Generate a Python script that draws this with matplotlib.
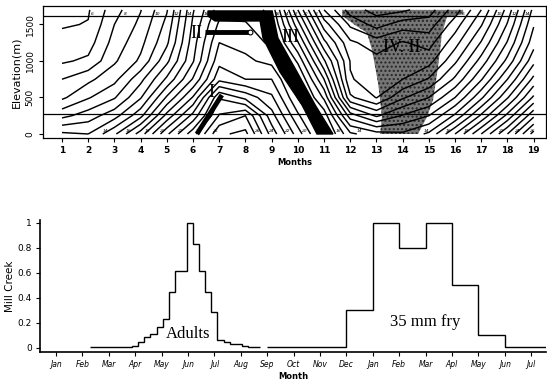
import numpy as np
import matplotlib
matplotlib.use("Agg")
import matplotlib.pyplot as plt

# ---------------- data: top panel (contoured field, months x elevation) -------------
months = np.arange(1, 20)
elev = np.array([0, 250, 500, 750, 1000, 1250, 1500, 1700])

temp_0m    = [13.2, 13.0, 14.8, 17.5, 20.8, 23.6, 26.8, 27.3, 23.6, 20.5, 17.4, 14.2, 13.4, 13.2, 14.2, 17.0, 20.0, 23.0, 26.4]
temp_250m  = [10.7, 11.5, 12.6, 14.7, 18.35, 21.35, 25.1, 26.0, 22.4, 19.2, 16.6, 11.5, 9.85, 11.1, 12.0, 14.2, 17.2, 20.3, 23.8]
temp_500m  = [8.8, 9.9, 10.9, 12.9, 16.15, 19.1, 23.9, 22.7, 21.2, 17.95, 14.8, 8.2, 6.95, 8.85, 10.0, 12.0, 14.8, 17.9, 21.2]
temp_750m  = [8.0, 8.75, 9.7, 11.7, 14.2, 17.1, 20.7, 20.0, 20.0, 17.2, 13.0, 7.05, 6.7, 7.0, 8.1, 10.2, 12.9, 16.0, 19.3]
temp_1000m = [6.85, 7.2, 8.85, 10.2, 12.75, 15.9, 19.7, 19.2, 18.7, 15.8, 11.15, 6.95, 6.3, 6.55, 6.6, 8.8, 11.4, 14.3, 17.7]
temp_1250m = [6.35, 6.55, 8.4, 9.7, 11.8, 15.55, 19.0, 18.7, 17.75, 14.1, 9.3, 6.2, 5.5, 6.1, 5.6, 7.6, 10.1, 13.1, 16.6]
temp_1500m = [5.9, 6.05, 8.0, 9.25, 11.3, 15.2, 18.2, 18.1, 17.2, 12.4, 7.5, 4.8, 3.6, 4.5, 4.5, 6.5, 8.9, 12.1, 15.9]
temp_1700m = [5.6, 5.9, 7.6, 8.95, 10.9, 14.9, 17.5, 17.6, 16.7, 11.0, 6.0, 3.5, 2.6, 2.8, 3.5, 5.5, 8.0, 11.4, 15.3]
contour_levels = np.arange(1, 31)

ref_lines_elev = [1616, 274]

# life-stage regions (month, elevation)
stage_I_month = [6.15, 7.1]
stage_I_elev = [0, 534]
stage_II_month = [6.46, 8.18]
stage_II_elev = [1397, 1397]
stage_III_month = [6.57, 9.02, 9.24, 9.97, 10.66, 11.34, 10.73, 10.16, 9.32, 8.67, 8.56, 6.84, 6.57]
stage_III_elev = [1685, 1685, 1315, 849, 397, 0, 0, 397, 849, 1315, 1548, 1548, 1616]
stage_IV_month = [11.69, 16.31, 16.31, 15.69, 15.50, 15.43, 15.35, 15.16, 14.93, 14.59,
                  13.14, 13.21, 13.14, 13.06, 12.95, 12.83, 12.64, 12.18, 11.69]
stage_IV_elev = [1700, 1700, 1640, 1600, 1384, 1151, 918, 466, 233, 0,
                 0, 233, 466, 699, 918, 1151, 1384, 1493, 1620]

# ---------------- data: bottom panel ----------------
month_labels = ["Jan", "Feb", "Mar", "Apr", "May", "Jun", "Jul", "Aug", "Sep", "Oct",
                "Nov", "Dec", "Jan", "Feb", "Mar", "Apl", "May", "Jun", "Jul"]
adult_weeks = np.arange(5, 33)          # week of year (first year)
adult_values = [0.005, 0.005, 0.005, 0.005, 0.005, 0.005, 0.005,
                0.01, 0.047, 0.087, 0.108, 0.167, 0.226, 0.443, 0.614, 0.614,
                1.0, 0.83, 0.614, 0.443, 0.283, 0.06, 0.042, 0.03, 0.03, 0.01,
                0.005, 0.005]
fry_months = np.arange(9, 20)          # Sep .. Jul (next year)
fry_values = [0.008, 0.005, 0.005, 0.30, 1.0, 0.80, 1.0, 0.50, 0.10, 0.008, 0.008]

# ---------------- figure ----------------
W, H = 547, 383
fig = plt.figure(figsize=(W / 100, H / 100), dpi=100)
plt.rcParams["hatch.linewidth"] = 1.0

ax1 = fig.add_axes([43 / W, 1 - 138 / H, 503 / W, 132 / H])
T = np.array([temp_0m, temp_250m, temp_500m, temp_750m, temp_1000m,
              temp_1250m, temp_1500m, temp_1700m])

ax1.fill(stage_IV_month, stage_IV_elev, facecolor="#767676", hatch="....",
         edgecolor="#262626", linewidth=0, zorder=1)
ax1.contour(months, elev, T, levels=contour_levels, colors="black",
            linewidths=1.05, zorder=2)
ax1.fill(stage_III_month, stage_III_elev, color="black", zorder=3)
ax1.plot(stage_I_month, stage_I_elev, color="black", lw=3.5, zorder=4,
         solid_capstyle="butt")
ax1.plot(stage_II_month, stage_II_elev, color="black", lw=3.5, zorder=4,
         solid_capstyle="butt")
ax1.plot(stage_II_month[-1:], stage_II_elev[-1:], marker="o", ms=3.5,
         mfc="white", mec="black", mew=0.8, zorder=5)
for e in ref_lines_elev:
    ax1.axhline(e, color="black", lw=0.9, zorder=5)

# small contour value labels where even isotherms meet the bottom and top edges
def edge_labels(row, z_text):
    for i in range(len(months) - 1):
        a, b = row[i], row[i + 1]
        for lev in range(2, 31, 2):
            if (a - lev) * (b - lev) < 0:
                m = months[i] + (lev - a) / (b - a)
                ax1.text(m + 0.1, z_text, str(lev), fontsize=3.2,
                         ha="center", va="center", zorder=6,
                         fontstyle="italic")

edge_labels(temp_0m, 40)
edge_labels(temp_1700m, 1650)

serif = dict(family="Liberation Serif", fontsize=13, color="black", zorder=6)
ax1.text(6.69, 575, "I", ha="center", va="center", **serif)
ax1.text(6.11, 1370, "II", ha="center", va="center", **serif)
ax1.text(9.70, 1315, "III", ha="center", va="center", **serif)
ax1.text(13.25, 1180, "IV. II", ha="left", va="center", **serif)

ax1.set_xlim(0.275, 19.47)
ax1.set_ylim(-55, 1753)
ax1.set_xticks(months)
ax1.set_xticklabels([str(m) for m in months], fontsize=6.5, fontweight="bold")
ax1.set_yticks([0, 500, 1000, 1500])
ax1.set_yticklabels(["0", "500", "1000", "1500"], fontsize=6.5, rotation=90,
                    va="center")
ax1.tick_params(axis="both", direction="out", length=3, width=0.8, pad=3)
ax1.set_xlabel("Months", fontsize=6, fontweight="bold", labelpad=2)
ax1.set_ylabel("Elevation(m)", fontsize=8, labelpad=3)
for s in ax1.spines.values():
    s.set_linewidth(0.9)

# bottom panel
ax2 = fig.add_axes([40 / W, 1 - 352 / H, 506 / W, 132 / H])
week_edges = np.append(adult_weeks, adult_weeks[-1] + 1) + 0.5
adult_edges = 1 + week_edges * 12 / 52
ax2.stairs(adult_values, adult_edges, baseline=None, color="black", lw=1.0)
fry_edges = np.append(fry_months, fry_months[-1] + 1)
ax2.stairs(fry_values, fry_edges, baseline=None, color="black", lw=1.0)

ax2.text(6.0, 0.11, "Adults", family="Liberation Serif", fontsize=12,
         ha="center", va="center")
ax2.text(15.0, 0.205, "35 mm fry", family="Liberation Serif", fontsize=12,
         ha="center", va="center")

ax2.set_xlim(0.394, 19.56)
ax2.set_ylim(-0.036, 1.024)
ax2.set_xticks(months)
ax2.set_xticklabels(month_labels, fontsize=5.5, style="italic")
ax2.set_yticks([0, 0.2, 0.4, 0.6, 0.8, 1.0])
ax2.set_yticklabels(["0", "0.2", "0.4", "0.6", "0.8", "1"], fontsize=6.5)
ax2.tick_params(axis="both", direction="out", length=3, width=0.8, pad=3)
ax2.spines["top"].set_visible(False)
ax2.spines["right"].set_visible(False)
ax2.spines["left"].set_linewidth(1.2)
ax2.spines["bottom"].set_linewidth(1.2)
ax2.set_xlabel("Month", fontsize=6, fontweight="bold", labelpad=2)
ax2.set_ylabel("Mill Creek", fontsize=7.5, labelpad=2)

fig.savefig("out.png", dpi=100)
